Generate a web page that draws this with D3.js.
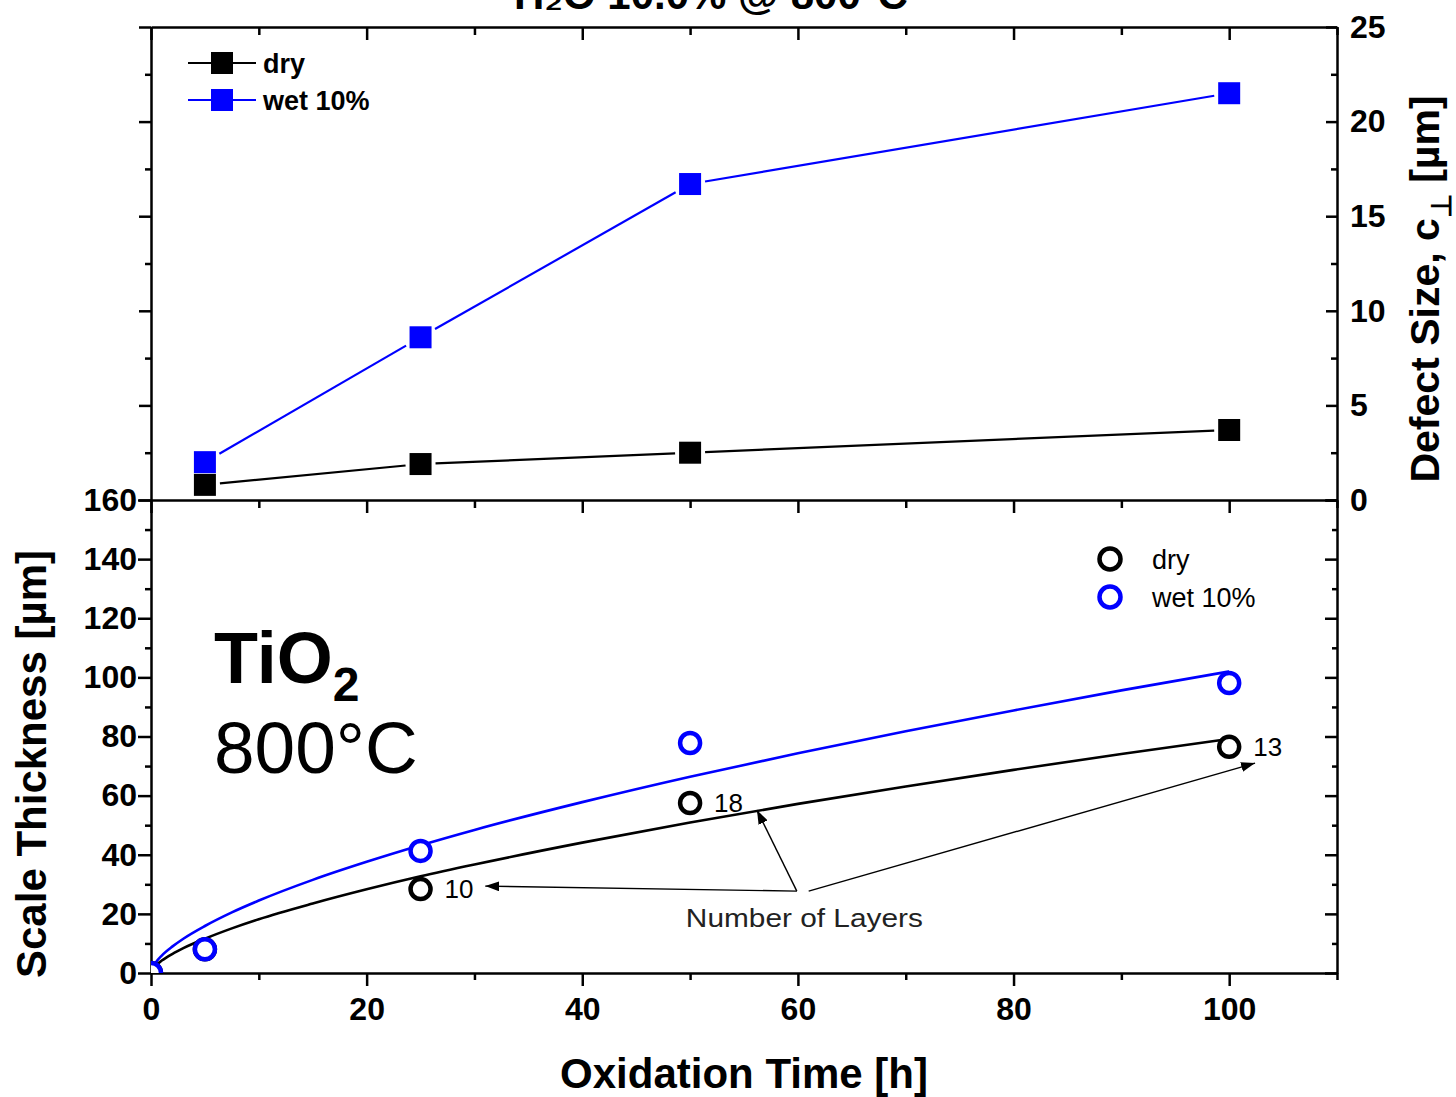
<!DOCTYPE html>
<html>
<head>
<meta charset="utf-8">
<script src="https://cdn.jsdelivr.net/npm/d3@7/dist/d3.min.js"></script>
<style>
  body { margin: 0; background: #fff; }
  svg text { font-family: Arial, "Liberation Sans", sans-serif; }
</style>
</head>
<body>
<svg id="chart" width="1456" height="1097"></svg>
<script>
// ---- data ----
var defectHours = [5, 25, 50, 100];
var defectDry = [0.8, 1.9, 2.5, 3.7];
var defectWet = [2.0, 8.6, 16.7, 21.5];

var thickHours = [0, 5, 25, 50, 100];
var thickDry = [0, 8, 28.4, 57.5, 76.5];
var thickWet = [0, 8, 41.3, 77.8, 98.1];

// fitted growth curves
var fitHours = [0, 0.5, 1, 2, 3, 5, 7.5, 10, 15, 20, 25, 30, 40, 50, 60, 70, 80, 90, 100];
var fitDry = [0, 2.7, 4.2, 6.5, 8.4, 11.6, 15.1, 18.2, 23.5, 28.3, 32.7, 36.7, 44.1, 50.9, 57.2, 63.1, 68.7, 74.1, 79.2];
var fitWet = [0, 3.8, 5.9, 9.0, 11.6, 15.9, 20.5, 24.5, 31.5, 37.6, 43.2, 48.4, 57.8, 66.4, 74.3, 81.8, 88.8, 95.6, 102.0];

var layerHours = [25, 50, 100];
var layerValues = [28.4, 57.5, 76.5];
var layerLabels = ['10', '18', '13'];

var xTicks = d3.range(0, 111, 10);
var defectTicks = d3.range(0, 25.1, 2.5);
var thickTicks = d3.range(0, 161, 10);

var seriesNames = ['dry', 'wet 10%'];
var seriesColors = ['#000000', '#0000ff'];

// ---- layout ----
var L = 151, R = 1337;
var top1 = 27, bot1 = 500, top2 = 500, bot2 = 973;

var svg = d3.select('#chart');

var x = d3.scaleLinear().domain([0, 110]).range([L, R]);
var yD = d3.scaleLinear().domain([0, 25]).range([bot1, top1]);
var yT = d3.scaleLinear().domain([0, 160]).range([bot2, top2]);

function isMajX(d) { return d % 20 === 0; }
function isMajD(d) { return d % 5 === 0; }
function isMajT(d) { return d % 20 === 0; }

function fixTicks(g, isMajor, big, small, sign, attr, showText) {
  g.selectAll('.tick line')
    .attr(attr, function(d) { return sign * (isMajor(d) ? big : small); })
    .attr('stroke', '#000').attr('stroke-width', 2.5);
  g.selectAll('.tick text')
    .style('display', function(d) { return (showText && isMajor(d)) ? null : 'none'; })
    .attr('fill', '#000')
    .style('font-size', '32px')
    .style('font-weight', 'bold');
  g.select('.domain').attr('stroke', '#000').attr('stroke-width', 2.5);
}

// title (cut off at the top edge in the original figure)
svg.append('text')
  .attr('x', 711).attr('y', 9)
  .attr('text-anchor', 'middle')
  .style('font-size', '42px').style('font-weight', 'bold')
  .text('H\u2082O 10.0% @ 800\u00b0C');

// ---- top panel axes ----
var gTopTop = svg.append('g').attr('transform', 'translate(0,' + top1 + ')')
  .call(d3.axisBottom(x).tickValues(xTicks).tickSizeOuter(0).tickFormat(''));
fixTicks(gTopTop, isMajX, 13, 8, 1, 'y2', false);

var gTopLeft = svg.append('g').attr('transform', 'translate(' + L + ',0)')
  .call(d3.axisLeft(yD).tickValues(defectTicks).tickSizeOuter(0).tickFormat(''));
fixTicks(gTopLeft, isMajD, 12, 6, -1, 'x2', false);

var gTopRight = svg.append('g').attr('transform', 'translate(' + R + ',0)')
  .call(d3.axisRight(yD).tickValues(defectTicks).tickSizeOuter(0).tickSizeInner(-11).tickPadding(13)
    .tickFormat(function(d) { return d3.format('d')(d); }));
fixTicks(gTopRight, isMajD, 11, 6, -1, 'x2', true);

// ---- bottom panel axes ----
var gBotTop = svg.append('g').attr('transform', 'translate(0,' + top2 + ')')
  .call(d3.axisBottom(x).tickValues(xTicks).tickSizeOuter(0).tickFormat(''));
fixTicks(gBotTop, isMajX, 13, 8, 1, 'y2', false);

var gBotBottom = svg.append('g').attr('transform', 'translate(0,' + bot2 + ')')
  .call(d3.axisBottom(x).tickValues(xTicks).tickSizeOuter(0).tickPadding(18));
fixTicks(gBotBottom, isMajX, 13, 7, 1, 'y2', true);

var gBotLeft = svg.append('g').attr('transform', 'translate(' + L + ',0)')
  .call(d3.axisLeft(yT).tickValues(thickTicks).tickSizeOuter(0).tickPadding(8));
fixTicks(gBotLeft, isMajT, 13, 6, -1, 'x2', true);

var gBotRight = svg.append('g').attr('transform', 'translate(' + R + ',0)')
  .call(d3.axisRight(yT).tickValues(thickTicks).tickSizeOuter(0).tickSizeInner(-12).tickFormat(''));
fixTicks(gBotRight, isMajT, 12, 5, -1, 'x2', false);

// axis titles
svg.append('text')
  .attr('transform', 'translate(46,764) rotate(-90)')
  .attr('text-anchor', 'middle')
  .style('font-size', '42px').style('font-weight', 'bold')
  .text('Scale Thickness [\u00b5m]');

svg.append('text')
  .attr('x', 744).attr('y', 1088)
  .attr('text-anchor', 'middle')
  .style('font-size', '42px').style('font-weight', 'bold')
  .text('Oxidation Time [h]');

var rt = svg.append('text')
  .attr('transform', 'translate(1439,289) rotate(-90)')
  .attr('text-anchor', 'middle')
  .style('font-size', '41px').style('font-weight', 'bold');
rt.append('tspan').text('Defect Size, c');
rt.append('tspan').attr('dy', 12).style('font-size', '28px').text('\u22a5');
rt.append('tspan').attr('dy', -12).text(' [\u00b5m]');

// ---- top panel data: squares with gapped lines ----
function gapSegs(xs, ys, yScale, half, gap) {
  var segs = [];
  for (var i = 0; i < xs.length - 1; i++) {
    var x0 = x(xs[i]), y0 = yScale(ys[i]), x1 = x(xs[i + 1]), y1 = yScale(ys[i + 1]);
    var dx = x1 - x0, dy = y1 - y0, len = Math.sqrt(dx * dx + dy * dy);
    var ux = dx / len, uy = dy / len;
    var e = half / Math.max(Math.abs(ux), Math.abs(uy)) + gap;
    segs.push([x0 + ux * e, y0 + uy * e, x1 - ux * e, y1 - uy * e]);
  }
  return segs;
}

[defectDry, defectWet].forEach(function(vals, k) {
  var g = svg.append('g');
  g.selectAll('line').data(gapSegs(defectHours, vals, yD, 11, 4)).enter().append('line')
    .attr('x1', function(s) { return s[0]; }).attr('y1', function(s) { return s[1]; })
    .attr('x2', function(s) { return s[2]; }).attr('y2', function(s) { return s[3]; })
    .attr('stroke', seriesColors[k]).attr('stroke-width', 2.2);
  g.selectAll('rect').data(vals).enter().append('rect')
    .attr('x', function(d, i) { return x(defectHours[i]) - 11; })
    .attr('y', function(d) { return yD(d) - 11; })
    .attr('width', 22).attr('height', 22)
    .attr('fill', seriesColors[k]);
});

// top legend
seriesNames.forEach(function(name, k) {
  var ly = 63 + k * 37;
  svg.append('line').attr('x1', 188).attr('x2', 256).attr('y1', ly).attr('y2', ly)
    .attr('stroke', seriesColors[k]).attr('stroke-width', 2.2);
  svg.append('rect').attr('x', 211).attr('y', ly - 11).attr('width', 22).attr('height', 22)
    .attr('fill', seriesColors[k]);
  svg.append('text').attr('x', 263).attr('y', ly + 10)
    .style('font-size', '27px').style('font-weight', 'bold').text(name);
});

// ---- bottom panel data ----
svg.append('clipPath').attr('id', 'clipBot').append('rect')
  .attr('x', L).attr('y', top2).attr('width', R - L).attr('height', bot2 - top2);

var plotBot = svg.append('g').attr('clip-path', 'url(#clipBot)');

var fitLine = d3.line()
  .x(function(d, i) { return x(fitHours[i]); })
  .y(function(d) { return yT(d); })
  .curve(d3.curveMonotoneX);

[fitDry, fitWet].forEach(function(vals, k) {
  plotBot.append('path').datum(vals).attr('d', fitLine)
    .attr('fill', 'none').attr('stroke', seriesColors[k]).attr('stroke-width', 2.6);
});

[thickDry, thickWet].forEach(function(vals, k) {
  plotBot.selectAll('circle.s' + k).data(vals).enter().append('circle')
    .attr('class', 's' + k)
    .attr('cx', function(d, i) { return x(thickHours[i]); })
    .attr('cy', function(d) { return yT(d); })
    .attr('r', 10)
    .attr('fill', '#fff')
    .attr('stroke', seriesColors[k]).attr('stroke-width', 4.5);
});

// bottom legend
seriesNames.forEach(function(name, k) {
  var ly = 559 + k * 38;
  svg.append('circle').attr('cx', 1110).attr('cy', ly).attr('r', 10.5)
    .attr('fill', '#fff').attr('stroke', seriesColors[k]).attr('stroke-width', 4.5);
  svg.append('text').attr('x', 1152).attr('y', ly + 10)
    .style('font-size', '27px').text(name);
});

// TiO2 800°C label
var t1 = svg.append('text').attr('x', 214).attr('y', 683)
  .style('font-size', '72px').style('font-weight', 'bold');
t1.append('tspan').text('TiO');
t1.append('tspan').attr('dy', 18).style('font-size', '48px').text('2');
svg.append('text').attr('x', 214).attr('y', 773)
  .style('font-size', '73px').text('800\u00b0C');

// number of layers annotation
svg.append('defs').append('marker')
  .attr('id', 'arrow').attr('viewBox', '0 0 14 10')
  .attr('refX', 14).attr('refY', 5)
  .attr('markerWidth', 14).attr('markerHeight', 10)
  .attr('markerUnits', 'userSpaceOnUse')
  .attr('orient', 'auto')
  .append('path').attr('d', 'M0,0 L14,5 L0,10 Z').attr('fill', '#000');

layerLabels.forEach(function(lab, i) {
  svg.append('text')
    .attr('x', x(layerHours[i]) + 24)
    .attr('y', yT(layerValues[i]) + 9)
    .style('font-size', '26px')
    .text(lab);
});

var arrowFrom = [[59.9, 27.7], [59.9, 27.7], [61.0, 27.7]];
var arrowTo = [[31.0, 29.4], [56.2, 55.1], [102.4, 71.0]];
arrowFrom.forEach(function(p, i) {
  svg.append('line')
    .attr('x1', x(p[0])).attr('y1', yT(p[1]))
    .attr('x2', x(arrowTo[i][0])).attr('y2', yT(arrowTo[i][1]))
    .attr('stroke', '#000').attr('stroke-width', 1.4)
    .attr('marker-end', 'url(#arrow)');
});

svg.append('text')
  .attr('x', x(60.6)).attr('y', yT(18.6) + 9)
  .attr('text-anchor', 'middle')
  .attr('textLength', 237).attr('lengthAdjust', 'spacingAndGlyphs')
  .attr('fill', '#222')
  .style('font-size', '25px')
  .text('Number of Layers');
</script>
</body>
</html>
